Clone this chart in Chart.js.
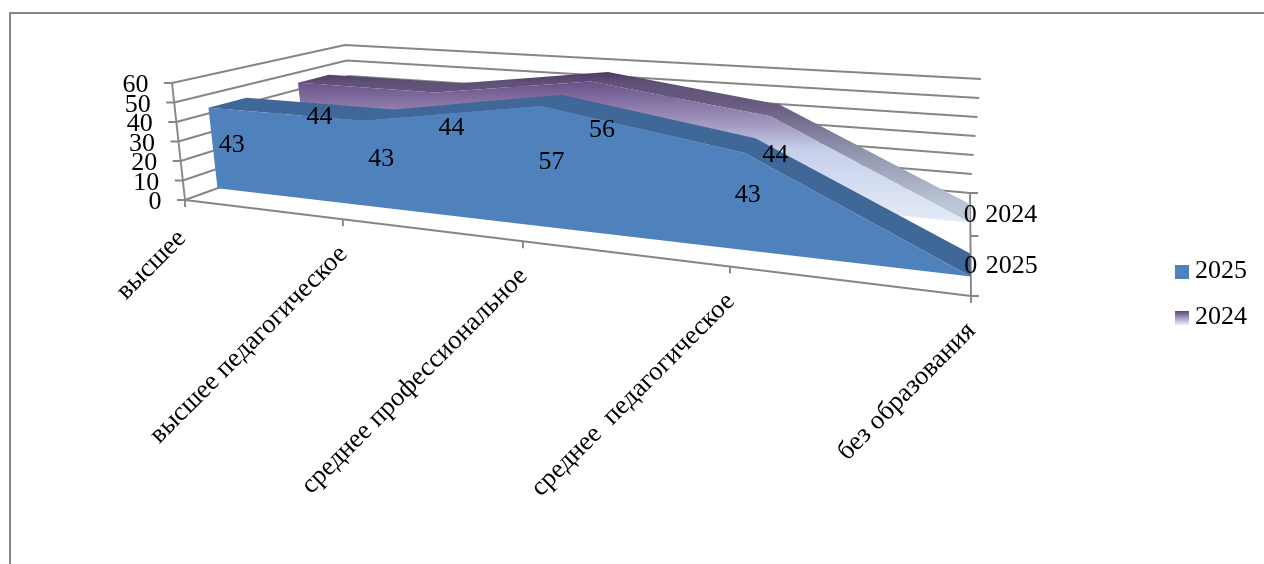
<!DOCTYPE html>
<html>
<head>
<meta charset="utf-8">
<style>html,body{margin:0;padding:0;background:#fff;overflow:hidden}canvas{display:block}</style>
<script src="https://cdn.jsdelivr.net/npm/chart.js@4"></script>
</head>
<body>
<canvas id="c" width="1264" height="564"></canvas>
<script>
const categories = ['высшее', 'высшее педагогическое', 'среднее профессиональное', 'среднее  педагогическое', 'без образования'];
const seriesNames = ['2025', '2024'];
const values2025 = [43, 43, 57, 43, 0];
const values2024 = [44, 44, 56, 44, 0];
const floorValues = [0, 0, 0, 0, 0];
const depthTicks = [0, 0.583, 1];

// Camera of the 3-D box: image of its eight corners, [category, value, depth]
const CORNERS = {
  '000': [185, 200], '100': [971, 296], '001': [356, 138], '101': [970, 193],
  '010': [172, 83], '110': [986, 144], '011': [345, 45], '111': [981, 79]
};
const PERSPECTIVE = 1.326;
const SLOT_2025 = [0.19, 0.41];
const SLOT_2024 = [0.71, 0.89];
const GRID = '#868686';
const FONT = '26px "Liberation Serif"';
const CATEGORY_FONT = '26.6px "Liberation Serif"';

function project(u, v, w) {
  const a = u / (u + PERSPECTIVE * (1 - u));
  const out = [0, 0];
  for (const i of [0, 1]) {
    for (const au of [0, 1]) for (const av of [0, 1]) for (const aw of [0, 1]) {
      out[i] += CORNERS['' + au + av + aw][i] * (au ? a : 1 - a) * (av ? v : 1 - v) * (aw ? w : 1 - w);
    }
  }
  return out;
}

function frontFace(values, w) {
  const top = values.map((v, i) => ({x: categories[i], y: v, w}));
  const base = floorValues.map((v, i) => ({x: categories[i], y: v, w})).reverse();
  return top.concat(base);
}
function topRibbon(values, slot) {
  const front = values.map((v, i) => ({x: categories[i], y: v, w: slot[0]}));
  const back = values.map((v, i) => ({x: categories[i], y: v, w: slot[1]})).reverse();
  return front.concat(back);
}

const canvas = document.getElementById('c');
const ctx0 = canvas.getContext('2d');
function vGrad(y0, y1, stops) {
  const g = ctx0.createLinearGradient(0, y0, 0, y1);
  stops.forEach(s => g.addColorStop(s[0], s[1]));
  return g;
}
const face2024 = vGrad(72, 222, [[0, '#5a3f74'], [0.1, '#72598f'], [0.25, '#8f80ae'], [0.38, '#a9a3c7'], [0.52, '#c6d0ea'], [1, '#e4ebf7']]);
const ribbon2024 = vGrad(72, 205, [[0, '#4d3a64'], [0.08, '#5f5177'], [0.25, '#695c80'], [0.55, '#8b8ea8'], [1, '#bcc6d6']]);

function swatch(fill) {
  const c = document.createElement('canvas');
  c.width = 14; c.height = 14;
  const x = c.getContext('2d');
  if (Array.isArray(fill)) {
    const g = x.createLinearGradient(0, 0, 0, 14);
    fill.forEach(s => g.addColorStop(s[0], s[1]));
    x.fillStyle = g;
  } else x.fillStyle = fill;
  x.fillRect(0, 0, 14, 14);
  return c;
}
const swatches = [swatch('#4f81bd'), swatch([[0, '#5a3f74'], [0.5, '#a093bd'], [1, '#e4ebf7']])];

const box3d = {
  id: 'box3d',
  afterDatasetsUpdate(chart) {
    const xs = chart.scales.x, ys = chart.scales.y;
    chart.data.datasets.forEach((ds, k) => {
      const meta = chart.getDatasetMeta(k);
      meta.data.forEach((el, i) => {
        const u = (xs.getPixelForValue(categories.indexOf(ds.data[i].x)) - xs.left) / xs.width;
        const v = (ys.bottom - ys.getPixelForValue(ds.data[i].y)) / ys.height;
        const p = project(u, v, ds.data[i].w);
        el.x = p[0]; el.y = p[1];
      });
    });
  },
  beforeDatasetsDraw(chart) {
    const ctx = chart.ctx, xs = chart.scales.x, ys = chart.scales.y;
    const seg = (a, b) => { ctx.moveTo(a[0], a[1]); ctx.lineTo(b[0], b[1]); };
    ctx.save();
    ctx.strokeStyle = GRID;
    ctx.lineWidth = 2;
    ctx.strokeRect(10, 13, 1400, 700);
    ctx.lineWidth = 1.9;
    ctx.beginPath();
    ys.ticks.forEach(t => {
      const v = (ys.bottom - ys.getPixelForValue(t.value)) / ys.height;
      const f = project(0, v, 0), b = project(0, v, 1), r = project(1, v, 1);
      seg(f, b); seg(b, r); seg([f[0] - 8, f[1]], f);
    });
    seg(project(0, 0, 0), project(0, 1, 0));
    seg(project(0, 0, 0), project(1, 0, 0));
    seg(project(1, 0, 0), project(1, 0, 1));
    categories.forEach((c, i) => {
      const u = (xs.getPixelForValue(i) - xs.left) / xs.width;
      const p = project(u, 0, 0);
      seg(p, [p[0], p[1] + 7]);
    });
    depthTicks.forEach(w => {
      const p = project(1, 0, w);
      seg(p, [p[0] + 8, p[1]]);
    });
    ctx.stroke();
    ctx.restore();
  },
  afterDatasetsDraw(chart) {
    const ctx = chart.ctx, xs = chart.scales.x, ys = chart.scales.y;
    ctx.save();
    ctx.fillStyle = '#000';
    ctx.font = FONT;
    // value axis
    ctx.textAlign = 'right';
    ctx.textBaseline = 'middle';
    ys.ticks.forEach(t => {
      const v = (ys.bottom - ys.getPixelForValue(t.value)) / ys.height;
      const p = project(0, v, 0);
      ctx.fillText(t.label, p[0] - 23.5, p[1] + 2.5);
    });
    // data labels
    ctx.textAlign = 'center';
    [[values2025, SLOT_2025, 0], [values2024, SLOT_2024, 2]].forEach(([vals, slot, dx]) => {
      vals.forEach((val, i) => {
        const u = (xs.getPixelForValue(i) - xs.left) / xs.width;
        const v = (ys.bottom - ys.getPixelForValue(val)) / ys.height;
        const p = project(u, v / 2, (slot[0] + slot[1]) / 2);
        ctx.fillText(String(val), p[0] + (val ? dx : 0), p[1] + (val ? 3 : 1.5));
      });
    });
    // depth axis
    ctx.textAlign = 'left';
    seriesNames.forEach((name, k) => {
      const slot = k ? SLOT_2024 : SLOT_2025;
      const p = project(1, 0, (slot[0] + slot[1]) / 2);
      ctx.fillText(name, p[0] + 15, p[1] + 1.5);
    });
    // category axis
    ctx.textAlign = 'right';
    ctx.font = CATEGORY_FONT;
    categories.forEach((c, i) => {
      const u = (xs.getPixelForValue(i) - xs.left) / xs.width;
      const p = project(u, 0, 0);
      ctx.save();
      ctx.translate(p[0] + (i ? 0.5 : -3), p[1] + (i ? 31 : 34.5));
      ctx.rotate(-Math.PI / 4);
      ctx.fillText(xs.ticks[i].label, 0, 0);
      ctx.restore();
    });
    ctx.restore();
  }
};

const shape = (label, data, color) => ({
  label, data, backgroundColor: color, borderColor: 'transparent', borderWidth: 0,
  pointRadius: 0, fill: 'shape', tension: 0, clip: false
});

new Chart(canvas, {
  type: 'line',
  data: {
    labels: categories,
    datasets: [
      shape(seriesNames[0], frontFace(values2025, SLOT_2025[0]), '#4f81bd'),
      shape(seriesNames[0] + ' top', topRibbon(values2025, SLOT_2025), '#3f6797'),
      shape(seriesNames[1], frontFace(values2024, SLOT_2024[0]), face2024),
      shape(seriesNames[1] + ' top', topRibbon(values2024, SLOT_2024), ribbon2024)
    ]
  },
  options: {
    responsive: false,
    animation: false,
    events: [],
    layout: {padding: {right: 7, top: 25, bottom: 0, left: 0}},
    scales: {
      x: {type: 'category', offset: false, display: false, ticks: {autoSkip: false}},
      y: {min: 0, max: 60, display: false, ticks: {stepSize: 10}}
    },
    plugins: {
      tooltip: {enabled: false},
      legend: {
        display: true,
        position: 'right',
        labels: {
          font: {family: 'Liberation Serif', size: 26},
          color: '#000',
          usePointStyle: true,
          boxWidth: 1,
          boxHeight: 14,
          padding: 20,
          generateLabels: () => seriesNames.map((text, k) => ({
            text, pointStyle: swatches[k], fillStyle: '#000', strokeStyle: '#000',
            lineWidth: 0, hidden: false, datasetIndex: k * 2
          }))
        }
      }
    }
  },
  plugins: [box3d]
});
</script>
</body>
</html>
